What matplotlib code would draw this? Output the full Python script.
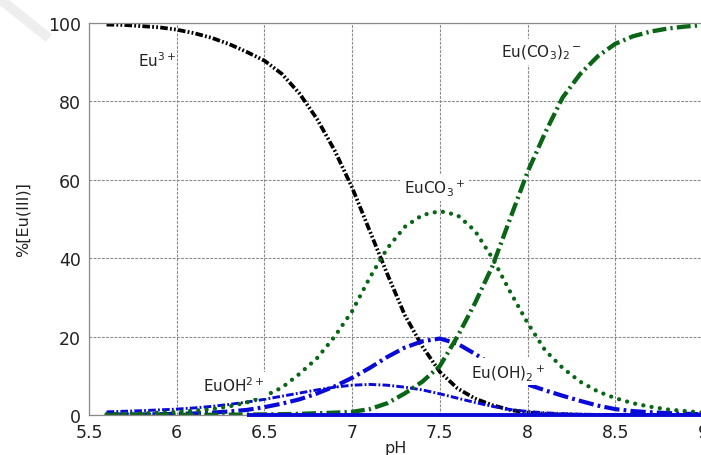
import numpy as np
import matplotlib
matplotlib.use("Agg")
import matplotlib.pyplot as plt
from matplotlib.lines import Line2D

# pH grid
ph = [5.6, 5.7, 5.8, 5.9, 6.0, 6.1, 6.2, 6.3, 6.4, 6.5,
      6.6, 6.7, 6.8, 6.9, 7.0, 7.1, 7.2, 7.3, 7.4, 7.5,
      7.6, 7.7, 7.8, 7.9, 8.0, 8.1, 8.2, 8.3, 8.4, 8.5,
      8.6, 8.7, 8.8, 8.9, 9.0]

# %[Eu(III)] of each species
eu3 = [99.6, 99.5, 99.2, 98.9, 98.3, 97.4, 96.2, 94.6, 92.6, 90.4,
       87.0, 82.0, 75.5, 67.5, 58.0, 47.0, 36.0, 25.5, 17.5, 11.0,
       6.8, 4.2, 2.5, 1.3, 0.6, 0.3, 0.15, 0.07, 0.03, 0.02,
       0.01, 0.0, 0.0, 0.0, 0.0]
euco3 = [0.2, 0.3, 0.4, 0.6, 0.8, 1.1, 1.5, 2.2, 3.2, 4.8,
         7.0, 10.5, 14.5, 20.0, 26.5, 35.0, 42.5, 48.0, 51.0, 52.0,
         51.0, 47.0, 40.0, 31.5, 23.5, 16.5, 12.0, 8.5, 6.0, 4.3,
         3.0, 2.1, 1.4, 1.0, 0.6]
euco3_2 = [0.0, 0.0, 0.0, 0.01, 0.02, 0.03, 0.05, 0.07, 0.1, 0.15,
           0.2, 0.3, 0.45, 0.6, 0.8, 1.5, 3.0, 5.5, 8.5, 12.5,
           20.0, 28.5, 38.0, 50.0, 62.0, 72.0, 81.0, 87.0, 91.5, 94.7,
           96.6, 97.8, 98.6, 99.1, 99.5]
euoh = [0.8, 0.95, 1.1, 1.3, 1.5, 1.8, 2.2, 2.7, 3.3, 4.0,
        4.8, 5.6, 6.4, 7.1, 7.6, 7.8, 7.6, 7.1, 6.4, 5.4,
        4.3, 3.2, 2.2, 1.4, 0.9, 0.55, 0.35, 0.2, 0.12, 0.08,
        0.05, 0.03, 0.02, 0.01, 0.01]
euoh2 = [0.1, 0.12, 0.15, 0.2, 0.3, 0.4, 0.6, 0.9, 1.3, 2.0,
         2.9, 4.0, 5.5, 7.3, 9.5, 12.0, 14.8, 17.2, 18.8, 19.5,
         18.2, 15.6, 12.8, 10.2, 7.8, 6.3, 4.9, 3.6, 2.4, 1.5,
         1.0, 0.7, 0.5, 0.3, 0.2]
# species that stays at ~0 (visible from about pH 6.4 on)
other_ph = [6.4, 9.0]
other = [0.0, 0.0]

green = '#0a6616'
blue = '#0a0ad8'

plt.rcParams['lines.scale_dashes'] = False
plt.rcParams['font.family'] = 'DejaVu Sans'

fig = plt.figure(figsize=(7.01, 4.56), dpi=100)
ax = fig.add_axes([89/701, 40/456, 614/701, 392/456])

ax.plot(ph, eu3, color='black', lw=2.7, dashes=(5.5, 1.6, 1.3, 1.6, 1.3, 1.6), zorder=2)
ax.plot(ph, euoh, color=blue, lw=2.1, dashes=(5.5, 1.6, 1.3, 1.6), zorder=2.2)
ax.plot(ph, euoh2, color=blue, lw=3.0, dashes=(11, 3, 2, 3), zorder=2.2)
ax.plot(ph, euco3, color=green, lw=3.1, dashes=(0.01, 6), dash_capstyle='round', zorder=2.3)
ax.plot(ph, euco3_2, color=green, lw=3.1, dashes=(10, 3, 1.6, 3), zorder=2.3)
ax.plot(other_ph, other, color=blue, lw=2.8, solid_capstyle='butt', clip_on=False, zorder=2.6)

ax.set_xlim(5.5, 9)
ax.set_ylim(0, 100)
ax.set_xticks([5.5, 6, 6.5, 7, 7.5, 8, 8.5, 9])
ax.set_xticklabels(['5.5', '6', '6.5', '7', '7.5', '8', '8.5', '9'])
ax.set_yticks([0, 20, 40, 60, 80, 100])
ax.tick_params(length=0, pad=6, labelsize=12.5, colors='#222222')
ax.grid(True, color='#8a8a8a', lw=0.8, linestyle=(0, (2, 1)))
for s in ax.spines.values():
    s.set_color('#8a8a8a')
    s.set_linewidth(0.9)

ax.set_xlabel('pH', fontsize=11.5, labelpad=-1, color='#222222')
ax.set_ylabel('%[Eu(III)]', fontsize=11.5, labelpad=12, color='#222222')

box = dict(facecolor='white', edgecolor='none', boxstyle='square,pad=0.25')
ax.text(5.78, 89, r'Eu$^{3+}$', fontsize=11, color='#222222', zorder=5)
ax.text(7.295, 56.7, r'EuCO$_3$$^+$', fontsize=11, color='#222222', bbox=box, zorder=5)
ax.text(7.85, 91.4, r'Eu(CO$_3$)$_2$$^-$', fontsize=11, color='#222222', bbox=box, zorder=5)
ax.text(6.148, 6.1, r'EuOH$^{2+}$', fontsize=11, color='#222222', bbox=box, zorder=5)
ax.text(7.676, 9.7, r'Eu(OH)$_2$$^+$', fontsize=11, color='#222222', bbox=box, zorder=5)

# faint diagonal mark in the top-left corner
fig.add_artist(Line2D([0, 45/701], [1, 1 - 36/456], transform=fig.transFigure,
                      color='#eeeeee', lw=7))

fig.savefig('out.png', dpi=100)
